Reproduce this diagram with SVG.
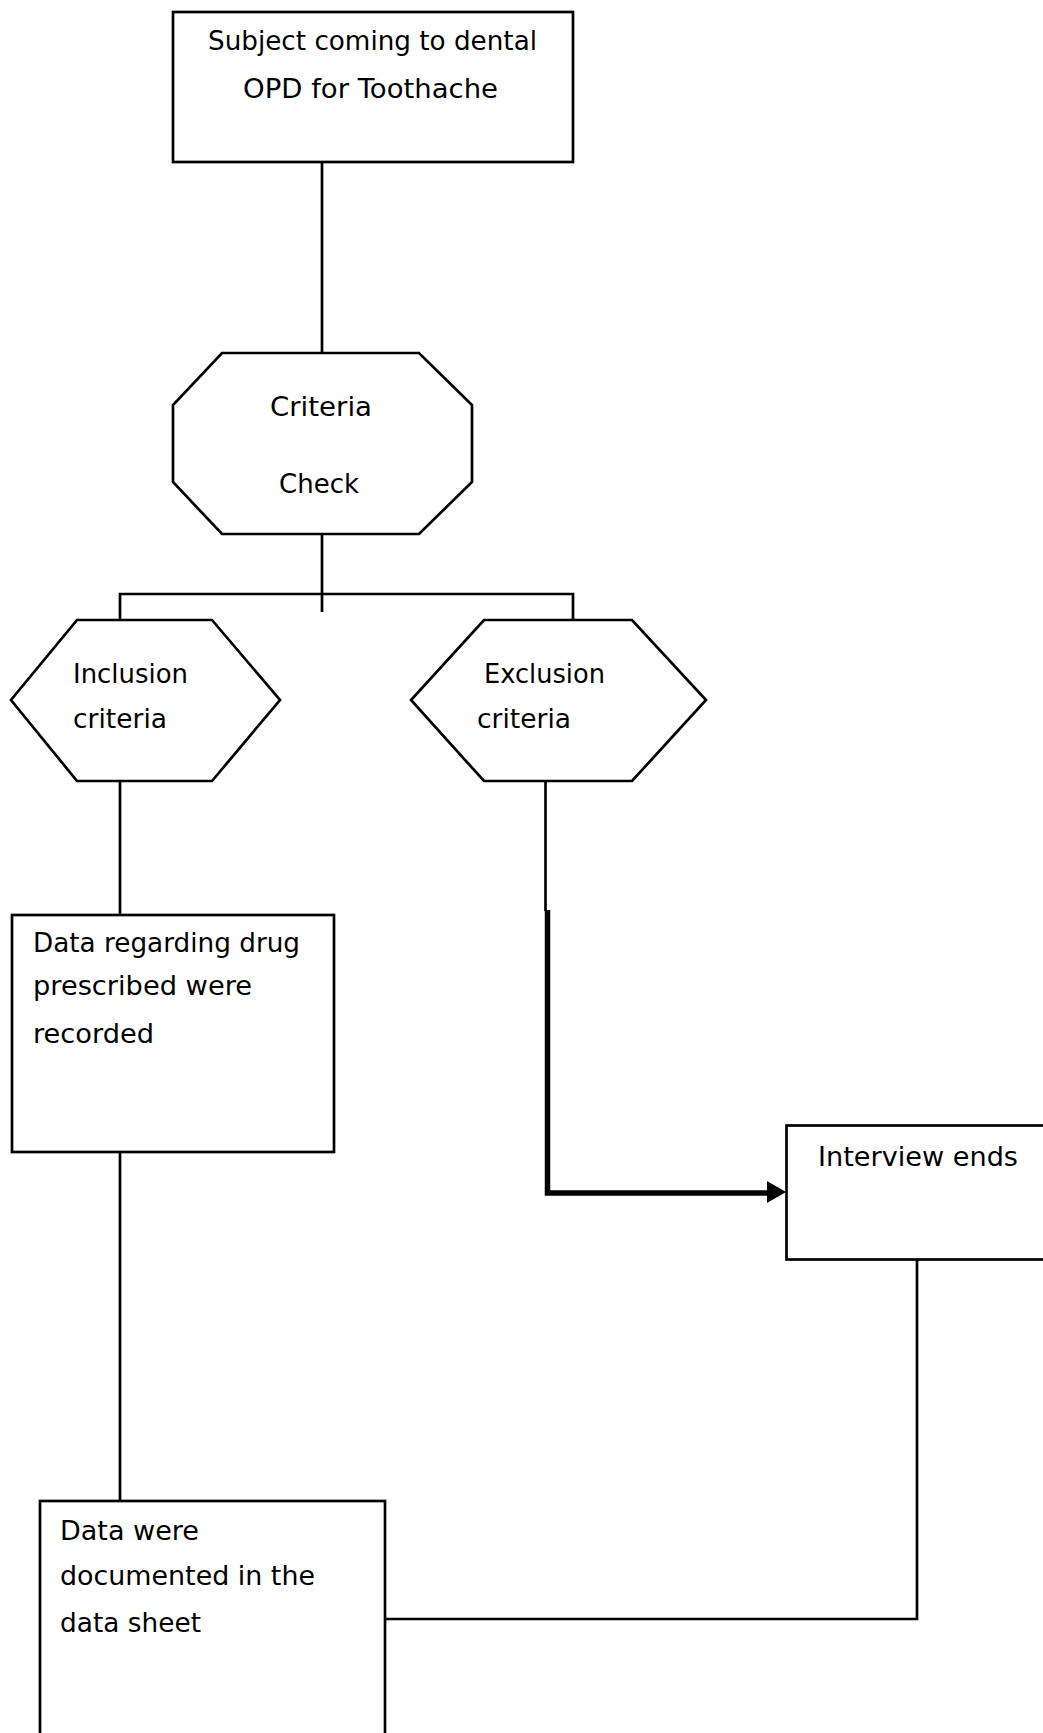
<svg xmlns="http://www.w3.org/2000/svg" width="1043" height="1733" viewBox="0 0 1043 1733">
<defs>
<style>
.shape{fill:#fff;stroke:#000;stroke-width:2.7}
.ln{fill:none;stroke:#000;stroke-width:2.7}
.thick{fill:none;stroke:#000;stroke-width:5.5}
text{font-family:"DejaVu Sans","Liberation Sans",sans-serif;font-size:26px;fill:#000}
</style>
<marker id="arr" markerUnits="userSpaceOnUse" markerWidth="20" markerHeight="24" refX="18" refY="12" orient="auto">
<path d="M0,0 L18,12 L0,24 Z" fill="#000"/>
</marker>
</defs>
<rect width="1043" height="1733" fill="#fff"/>
<g id="connectors">
<line class="ln" x1="322" y1="162" x2="322" y2="353"/>
<line class="ln" x1="322" y1="534" x2="322" y2="612"/>
<polyline class="ln" points="120,620 120,594 573,594 573,620"/>
<line class="ln" x1="120" y1="781" x2="120" y2="915"/>
<line class="ln" x1="545.5" y1="781" x2="545.5" y2="911"/>
<polyline class="thick" points="547.5,910 547.5,1193 770,1193"/>
<path d="M767,1181 L786,1192 L767,1203 Z" fill="#000"/>
<line class="ln" x1="120" y1="1152" x2="120" y2="1501"/>
<polyline class="ln" points="917,1259 917,1619 385,1619"/>
</g>
<g id="node-subject">
<rect class="shape" x="173" y="12" width="400" height="150"/>
<text x="208" y="50" textLength="329" lengthAdjust="spacingAndGlyphs">Subject coming to dental</text>
<text x="243" y="98" textLength="255" lengthAdjust="spacingAndGlyphs">OPD for Toothache</text>
</g>
<g id="node-criteria">
<polygon class="shape" points="222,353 419,353 472,405 472,482 419,534 222,534 173,482 173,405"/>
<text x="270" y="416" textLength="102" lengthAdjust="spacingAndGlyphs">Criteria</text>
<text x="279" y="493" textLength="80" lengthAdjust="spacingAndGlyphs">Check</text>
</g>
<g id="node-inclusion">
<polygon class="shape" points="77,620 212,620 280,700 212,781 77,781 11,700"/>
<text x="73" y="683" textLength="115" lengthAdjust="spacingAndGlyphs">Inclusion</text>
<text x="73" y="728" textLength="94" lengthAdjust="spacingAndGlyphs">criteria</text>
</g>
<g id="node-exclusion">
<polygon class="shape" points="484,620 632,620 706,700 632,781 484,781 411,700"/>
<text x="484" y="683" textLength="121" lengthAdjust="spacingAndGlyphs">Exclusion</text>
<text x="477" y="728" textLength="94" lengthAdjust="spacingAndGlyphs">criteria</text>
</g>
<g id="node-drug">
<rect class="shape" x="12" y="915" width="322" height="237"/>
<text x="33" y="952" textLength="267" lengthAdjust="spacingAndGlyphs">Data regarding drug</text>
<text x="33" y="995" textLength="219" lengthAdjust="spacingAndGlyphs">prescribed were</text>
<text x="33" y="1043" textLength="121" lengthAdjust="spacingAndGlyphs">recorded</text>
</g>
<g id="node-interview">
<rect class="shape" x="786.5" y="1125.5" width="270" height="134"/>
<text x="818" y="1166" textLength="200" lengthAdjust="spacingAndGlyphs">Interview ends</text>
</g>
<g id="node-documented">
<rect class="shape" x="40" y="1501" width="345" height="250"/>
<text x="60" y="1540" textLength="139" lengthAdjust="spacingAndGlyphs">Data were</text>
<text x="60" y="1585" textLength="255" lengthAdjust="spacingAndGlyphs">documented in the</text>
<text x="60" y="1632" textLength="141" lengthAdjust="spacingAndGlyphs">data sheet</text>
</g>
</svg>
